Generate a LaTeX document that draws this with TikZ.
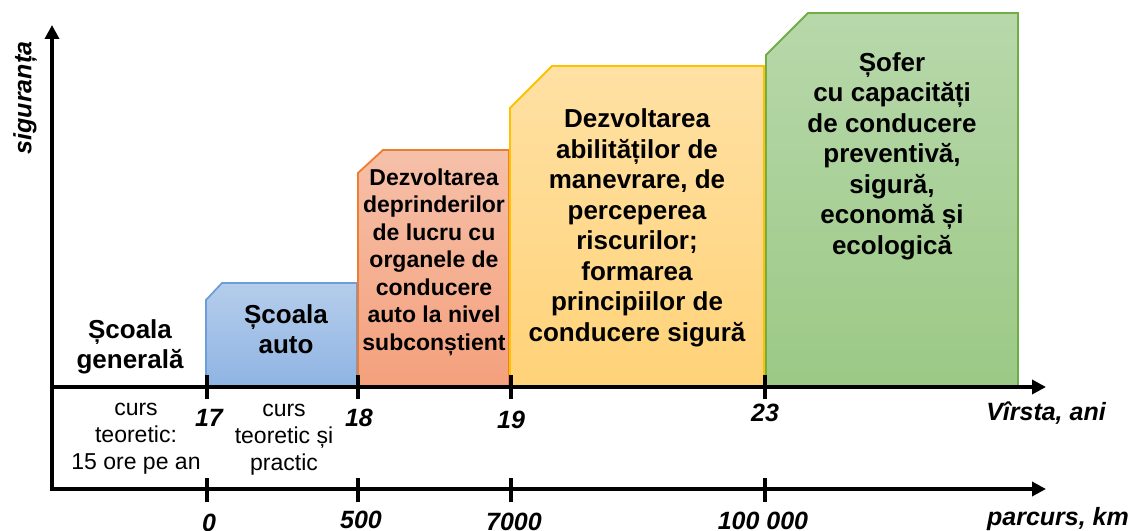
\documentclass[tikz,border=0pt]{standalone}
\usepackage{fontspec}
\setmainfont{Liberation Sans}
\usepackage{tikz}
\usetikzlibrary{arrows.meta}
\tikzset{>={Triangle[length=14bp,width=14bp]}}

\definecolor{blueTop}{HTML}{B5CDEB}
\definecolor{blueBot}{HTML}{8FB4E3}
\definecolor{blueLine}{HTML}{6C9FDA}
\definecolor{orangeTop}{HTML}{F6C0A9}
\definecolor{orangeBot}{HTML}{F4A07C}
\definecolor{orangeLine}{HTML}{ED7D31}
\definecolor{yellowTop}{HTML}{FFE1A4}
\definecolor{yellowBot}{HTML}{FFD278}
\definecolor{yellowLine}{HTML}{FFC000}
\definecolor{greenTop}{HTML}{B8D8AB}
\definecolor{greenBot}{HTML}{9BC985}
\definecolor{greenLine}{HTML}{70AD47}

\tikzset{
  axis/.style={line width=4bp,black},
  tick/.style={line width=4bp,black},
  stage/.style={line width=1.8bp,line join=miter},
  ticklbl/.style={font=\fontsize{25bp}{28bp}\selectfont\bfseries\itshape,inner sep=0pt},
  note/.style={font=\fontsize{23bp}{27bp}\selectfont,align=center,inner sep=0pt},
  boxtxt/.style={font=\fontsize{26bp}{30.5bp}\selectfont\bfseries,align=center,inner sep=0pt},
}

\begin{document}
\begin{tikzpicture}[x=1bp,y=-1bp,line cap=butt,line join=miter]
\useasboundingbox (0,0) rectangle (1131,531);

% trepte
\draw[stage,draw=blueLine,top color=blueTop,bottom color=blueBot]
  (206,387) -- (206,300) -- (222,283) -- (357,283) -- (357,387);
\draw[stage,draw=orangeLine,top color=orangeTop,bottom color=orangeBot]
  (358,387) -- (358,173) -- (383,150) -- (509,150) -- (509,387);
\draw[stage,draw=yellowLine,top color=yellowTop,bottom color=yellowBot]
  (510,387) -- (510,108) -- (552,66) -- (764,66) -- (764,387);
\draw[stage,draw=greenLine,top color=greenTop,bottom color=greenBot]
  (766,387) -- (766,55) -- (808,13) -- (1018,13) -- (1018,387);

% axe
\coordinate (yTop) at (52,25);
\coordinate (orig) at (52,489);
\coordinate (kmEnd) at (1046,489);
\coordinate (ageStart) at (52,387);
\coordinate (ageEnd) at (1046,387);
\draw[axis,<->] (yTop) -- (orig) -- (kmEnd);
\draw[axis,->] (ageStart) -- (ageEnd);
\foreach \x in {207,358,511,765}{
  \draw[tick] (\x,375) -- (\x,399);
  \draw[tick] (\x,478) -- (\x,502);
}

% etichete
\node[ticklbl,rotate=90] (sig) at (25,98) {siguranța};
\node[ticklbl] (a17) at (209,418) {17};
\node[ticklbl] (a18) at (359,418) {18};
\node[ticklbl] (a19) at (511,420) {19};
\node[ticklbl] (a23) at (765,413) {23};
\node[ticklbl] (ani) at (1046,413) {Vîrsta, ani};
\node[ticklbl] (k0) at (209,523) {0};
\node[ticklbl] (k500) at (361,520) {500};
\node[ticklbl] (k7000) at (514,522) {7000};
\node[ticklbl] (k100) at (763,521) {100 000};
\node[ticklbl] (km) at (1058,519) {parcurs, km};

\node[note] (curs1) at (136,439) {curs\\teoretic:\\15 ore pe an};
\node[note] (curs2) at (284,440) {curs\\teoretic și\\practic};

\node[boxtxt] (gen) at (130,347) {Școala\\generală};
\node[boxtxt] (auto) at (286,329) {Școala\\auto};
\node[boxtxt,font=\fontsize{23bp}{27.5bp}\selectfont\bfseries] (depr) at (434,262)
  {Dezvoltarea\\deprinderilor\\de lucru cu\\organele de\\conducere\\auto la nivel\\subconștient};
\node[boxtxt] (abil) at (637,228)
  {Dezvoltarea\\abilităților de\\manevrare, de\\perceperea\\riscurilor;\\formarea\\principiilor de\\conducere sigură};
\node[boxtxt] (sofer) at (892,156)
  {Șofer\\cu capacități\\de conducere\\preventivă,\\sigură,\\economă și\\ecologică};
\end{tikzpicture}
\end{document}
